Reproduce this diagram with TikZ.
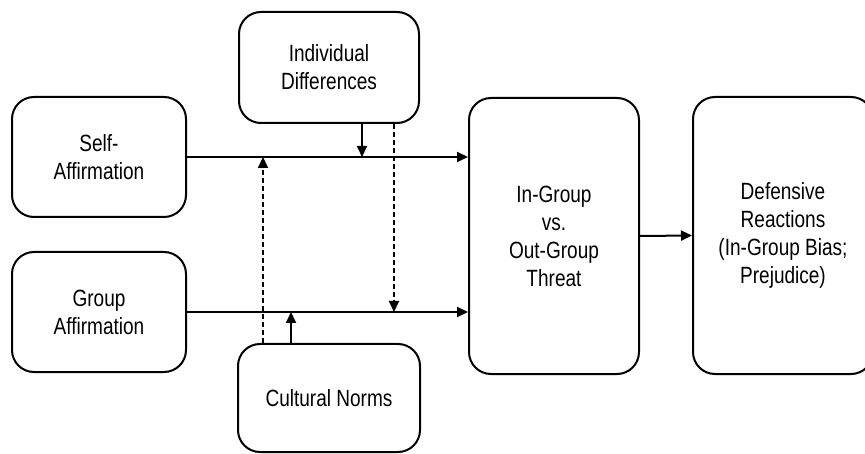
\documentclass[tikz,border=0pt]{standalone}
\usepackage{fontspec}
\setmainfont[FakeStretch=0.81]{Liberation Sans}
\usetikzlibrary{arrows.meta}
\tikzset{
  boxnode/.style={draw, line width=2pt, rounded corners=22pt, align=center, inner sep=0pt,
    font=\fontsize{23.5pt}{28pt}\selectfont},
  flow/.style={line width=2pt, -{Triangle[length=11pt,width=10pt]}},
  flowdash/.style={flow, dash pattern=on 5pt off 3pt},
}
\begin{document}
\begin{tikzpicture}[x=1pt,y=-1pt]
\useasboundingbox (0,0) rectangle (865,454);
\node[boxnode, minimum width=174pt, minimum height=120pt] (self) at (99,157) {Self-\\Affirmation};
\node[boxnode, minimum width=174pt, minimum height=120pt] (group) at (99,312) {Group\\Affirmation};
\node[boxnode, minimum width=180pt, minimum height=111pt] (indiv) at (329,67.5) {Individual\\Differences};
\node[boxnode, minimum width=182pt, minimum height=108pt] (cult) at (329,398) {Cultural Norms};
\node[boxnode, minimum width=170pt, minimum height=276pt] (threat) at (554,236) {In-Group\\vs.\\Out-Group\\Threat};
\node[boxnode, minimum width=180pt, minimum height=277pt] (def) at (783,235.5) {Defensive\\Reactions\\(In-Group Bias;\\Prejudice)};
\coordinate (xa) at (362,0);
\coordinate (xb) at (394,0);
\coordinate (xc) at (291,0);
\coordinate (xd) at (263,0);
\draw[flow] (self.east) -- (self.east -| threat.west);
\draw[flow] (group.east) -- (group.east -| threat.west);
\draw[flow] (threat.east) -- (def.west);
\draw[flow] (xa |- indiv.south) -- (xa |- self.east);
\draw[flowdash] (xb |- indiv.south) -- (xb |- group.east);
\draw[flow] (xc |- cult.north) -- (xc |- group.east);
\draw[flowdash] (xd |- cult.north) -- (xd |- self.east);
\end{tikzpicture}
\end{document}
